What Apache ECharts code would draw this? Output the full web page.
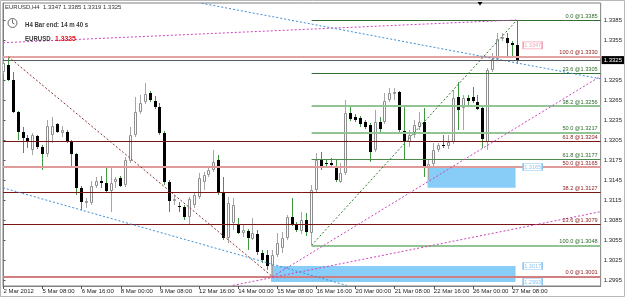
<!DOCTYPE html>
<html><head><meta charset="utf-8">
<script src="https://cdn.jsdelivr.net/npm/echarts@6/dist/echarts.min.js"></script>
<style>html,body{margin:0;padding:0;background:#fff}#c{width:625px;height:297px}</style>
</head><body><div id="c"></div>
<script>
// ---- data (EURUSD H4, 2 Mar 2012 00:00 .. 27 Mar 2012 12:00, bar index) ----
const openP = [1.3307,1.3318,1.3295,1.3247,1.3217,1.3208,1.3190,1.3211,1.3195,1.3184,
 1.3213,1.3229,1.3216,1.3217,1.3202,1.3184,1.3134,1.3113,1.3111,1.3137,
 1.3144,1.3141,1.3129,1.3143,1.3149,1.3138,1.3174,1.3213,1.3247,1.3262,
 1.3276,1.3264,1.3255,1.3216,1.3143,1.3114,1.3107,1.3105,1.3090,1.3108,
 1.3120,1.3143,1.3153,1.3161,1.3176,1.3126,1.3059,1.3081,1.3080,1.3066,
 1.3069,1.3057,1.3065,1.3036,1.3033,1.3017,1.3033,1.3044,1.3059,1.3090,
 1.3078,1.3069,1.3086,1.3066,1.3131,1.3176,1.3171,1.3171,1.3167,1.3143,
 1.3156,1.3246,1.3240,1.3238,1.3232,1.3228,1.3190,1.3232,1.3232,1.3265,
 1.3276,1.3277,1.3219,1.3202,1.3213,1.3225,1.3232,1.3164,1.3170,1.3190,
 1.3198,1.3196,1.3202,1.3270,1.3253,1.3268,1.3270,1.3262,1.3253,1.3202,
 1.3310,1.3327,1.3357,1.3358,1.3351,1.3347];
const highP = [1.3325,1.3330,1.3307,1.3249,1.3225,1.3213,1.3216,1.3213,1.3198,1.3235,
 1.3240,1.3231,1.3226,1.3220,1.3205,1.3186,1.3137,1.3119,1.3144,1.3150,
 1.3152,1.3164,1.3164,1.3150,1.3152,1.3180,1.3225,1.3270,1.3273,1.3291,
 1.3279,1.3271,1.3261,1.3219,1.3146,1.3123,1.3113,1.3108,1.3120,1.3126,
 1.3156,1.3158,1.3167,1.3190,1.3183,1.3150,1.3120,1.3119,1.3089,1.3078,
 1.3072,1.3089,1.3071,1.3041,1.3041,1.3041,1.3066,1.3068,1.3093,1.3119,
 1.3083,1.3098,1.3096,1.3138,1.3186,1.3187,1.3177,1.3179,1.3176,1.3171,
 1.3265,1.3258,1.3244,1.3241,1.3235,1.3231,1.3250,1.3240,1.3276,1.3283,
 1.3283,1.3279,1.3255,1.3220,1.3235,1.3247,1.3253,1.3176,1.3201,1.3201,
 1.3213,1.3213,1.3280,1.3292,1.3273,1.3273,1.3285,1.3273,1.3258,1.3313,
 1.3336,1.3366,1.3366,1.3366,1.3354,1.3385];
const lowP = [1.3304,1.3294,1.3246,1.3205,1.3186,1.3193,1.3183,1.3192,1.3161,1.3180,
 1.3201,1.3216,1.3210,1.3201,1.3165,1.3123,1.3101,1.3104,1.3108,1.3134,
 1.3134,1.3126,1.3098,1.3134,1.3135,1.3135,1.3171,1.3210,1.3244,1.3259,
 1.3262,1.3252,1.3213,1.3138,1.3098,1.3108,1.3098,1.3086,1.3078,1.3104,
 1.3117,1.3131,1.3150,1.3158,1.3123,1.3056,1.3051,1.3071,1.3065,1.3060,
 1.3041,1.3056,1.3033,1.3022,1.3011,1.3001,1.3030,1.3036,1.3056,1.3077,
 1.3068,1.3065,1.3062,1.3048,1.3128,1.3161,1.3165,1.3164,1.3143,1.3141,
 1.3153,1.3234,1.3232,1.3225,1.3222,1.3173,1.3187,1.3217,1.3229,1.3262,
 1.3265,1.3217,1.3176,1.3195,1.3208,1.3220,1.3150,1.3146,1.3165,1.3187,
 1.3193,1.3192,1.3199,1.3220,1.3220,1.3255,1.3261,1.3250,1.3193,1.3190,
 1.3307,1.3325,1.3354,1.3330,1.3330,1.3319];
const closeP = [1.3321,1.3295,1.3247,1.3217,1.3208,1.3204,1.3213,1.3195,1.3184,1.3226,
 1.3226,1.3217,1.3220,1.3202,1.3184,1.3134,1.3113,1.3114,1.3137,1.3144,
 1.3141,1.3129,1.3141,1.3147,1.3137,1.3176,1.3213,1.3247,1.3261,1.3274,
 1.3265,1.3255,1.3216,1.3143,1.3114,1.3117,1.3105,1.3090,1.3117,1.3123,
 1.3149,1.3153,1.3161,1.3173,1.3126,1.3059,1.3111,1.3108,1.3066,1.3071,
 1.3059,1.3066,1.3038,1.3026,1.3017,1.3033,1.3051,1.3059,1.3090,1.3080,
 1.3071,1.3086,1.3068,1.3131,1.3176,1.3164,1.3170,1.3168,1.3146,1.3156,
 1.3246,1.3237,1.3235,1.3229,1.3225,1.3187,1.3232,1.3222,1.3264,1.3276,
 1.3277,1.3220,1.3202,1.3213,1.3228,1.3232,1.3165,1.3170,1.3190,1.3198,
 1.3196,1.3202,1.3268,1.3250,1.3268,1.3264,1.3264,1.3252,1.3207,1.3310,
 1.3327,1.3357,1.3360,1.3351,1.3348,1.3325];

const xTickIdx = [0,8,16,24,32,40,48,56,64,72,80,88,96,104];
const xTickLabels = ['2 Mar 2012','5 Mar 08:00','6 Mar 16:00','8 Mar 00:00','9 Mar 08:00','12 Mar 16:00',
  '14 Mar 00:00','15 Mar 08:00','16 Mar 16:00','20 Mar 00:00','21 Mar 08:00','22 Mar 16:00','26 Mar 00:00','27 Mar 08:00'];
const yTicks = [1.2995,1.3025,1.3055,1.3085,1.3115,1.3145,1.3175,1.3205,1.3235,1.3265,1.3295,1.3325,1.3355,1.3385];

// Fibonacci sets
const redLevels = [0, 23.6, 38.2, 50, 61.8, 100];
const redPrices = [1.3001, 1.3079, 1.3127, 1.3165, 1.3204, 1.3330];
const greenLevels = [0, 23.6, 38.2, 50, 61.8, 100];
const greenPrices = [1.3385, 1.3305, 1.3256, 1.3217, 1.3177, 1.3048];
const greenStartBar = 63;

// trend lines [bar, price]
const redFibTrend = [[1, 1.3330], [55, 1.3001]];
const greenFibTrend = [[63, 1.3048], [105, 1.3385]];
const pinkTop = [[-0.1, 1.3351], [105, 1.3385]];
const pinkSteep = [[55, 1.3001], [122.1, 1.3301]];
const pinkShallow = [[46.9, 1.2988], [121.9, 1.3098]];
const blueUpper = [[40.5, 1.3410], [122.1, 1.3297]];
const blueLower = [[-0.1, 1.3134], [70.2, 1.2988]];

// rectangles [barFrom, priceTop, barTo, priceBottom]
const rects = [[86.7, 1.3165, 104.7, 1.3134], [54.7, 1.3017, 104.7, 1.2993]];
// price labels
const priceLabelVals = [1.3347, 1.3165, 1.3017, 1.2993];
const bidPrice = 1.3325;
const headerText = 'EURUSD,H4  1.3347 1.3385 1.3319 1.3325';

// ---- styles ----
const redStyle = [
  {c:'#cf7f7f', w:2}, {c:'#7a1515', w:1}, {c:'#7a1515', w:1},
  {c:'#e09a9a', w:2}, {c:'#7a1515', w:1}, {c:'#e3a3a3', w:2}];
const greenStyle = [
  {c:'#336f33', w:1}, {c:'#336f33', w:1}, {c:'#93c493', w:2},
  {c:'#93c493', w:2}, {c:'#4d8c4d', w:1}, {c:'#93c493', w:2}];
const redLabelColor = '#8a1c1c', greenLabelColor = '#2c6a2c';
const priceLabelColors = ['#f0a6b6', '#8cc4ee', '#8cc4ee', '#8cc4ee'];
const XMIN = -0.1, XMAX = 122.1;
const FONT = 'Liberation Sans';

const candles = openP.map((o, i) => [i, o, closeP[i], lowP[i], highP[i]]);

function fibLines(levels, prices, styles, x0, labelColor) {
  return levels.map((lv, k) => [
    {coord: [x0, prices[k]],
     lineStyle: {color: styles[k].c, width: styles[k].w, type: 'solid'},
     label: {show: true, position: 'insideEndTop', distance: [3, 1],
       formatter: lv.toFixed(1) + ' @' + prices[k].toFixed(4),
       color: labelColor, fontSize: 5.6, fontFamily: FONT}},
    {coord: [XMAX, prices[k]]}
  ]);
}
function trend(pts, color) {
  return [
    {coord: pts[0], lineStyle: {color: color, width: 1, type: [2, 2]}, label: {show: false}},
    {coord: pts[1]}
  ];
}

const option = {
  animation: false,
  backgroundColor: '#ffffff',
  textStyle: {fontFamily: FONT},
  grid: {left: 3, right: 24, top: 3, bottom: 11, show: true, borderColor: '#808080', borderWidth: 1, backgroundColor: '#fff'},
  xAxis: {
    type: 'value', min: XMIN, max: XMAX,
    axisLine: {show: true, lineStyle: {color: '#808080'}},
    splitLine: {show: false},
    axisTick: {show: true, length: 3, customValues: xTickIdx, lineStyle: {color: '#555'}},
    axisLabel: {customValues: xTickIdx, align: 'left', margin: 2, fontSize: 6, color: '#222',
      formatter: v => xTickLabels[xTickIdx.indexOf(Math.round(v))] || ''}
  },
  yAxis: {
    type: 'value', position: 'right', min: 1.29871, max: 1.34104, scale: true,
    axisLine: {show: true, lineStyle: {color: '#808080'}},
    splitLine: {show: false},
    axisTick: {show: true, length: 2, customValues: yTicks, lineStyle: {color: '#555'}},
    axisLabel: {customValues: yTicks, margin: 3, fontSize: 6, color: '#222', formatter: v => v.toFixed(4)}
  },
  graphic: [
    {type: 'rect', shape: {x: 0.5, y: 0.5, width: 624, height: 296}, style: {fill: 'none', stroke: '#b8b8b8'}, z: 100},
    {type: 'text', x: 5, y: 7, style: {text: headerText, fontSize: 6, fill: '#333', fontFamily: FONT, verticalAlign: 'middle'}, z: 100},
    {type: 'circle', shape: {cx: 12.5, cy: 23, r: 4.5}, style: {fill: '#fff', stroke: '#666', lineWidth: 1}, z: 100},
    {type: 'polyline', shape: {points: [[12.5, 19.5], [12.5, 23], [14.5, 24]]}, style: {stroke: '#666', lineWidth: 1, fill: 'none'}, z: 100},
    {type: 'text', x: 25, y: 25, scaleX: 0.76, style: {text: 'H4 Bar end: 14 m 40 s', fontSize: 8, fontWeight: 'bold', fill: '#3a3a3a', fontFamily: FONT, verticalAlign: 'middle'}, z: 100},
    {type: 'text', x: 25, y: 39, scaleX: 0.76, style: {text: 'EURUSD', fontSize: 8, fontWeight: 'bold', fill: '#3a3a3a', fontFamily: FONT, verticalAlign: 'middle'}, z: 100},
    {type: 'text', x: 55, y: 39, scaleX: 0.85, style: {text: '1.3325', fontSize: 8, fontWeight: 'bold', fill: '#e01010', fontFamily: FONT, verticalAlign: 'middle'}, z: 100},
    {type: 'polygon', shape: {points: [[477.5, 2], [482.5, 2], [480, 5.5]]}, style: {fill: '#000'}, z: 100}
  ],
  series: [
    {
      type: 'line', data: [], z: 1, silent: true,
      markArea: {silent: true, itemStyle: {color: '#87cdf8', opacity: 1},
        data: rects.map(r => [{coord: [r[0], r[1]]}, {coord: [r[2], r[3]]}])}
    },
    {
      type: 'custom', z: 2, clip: true, encode: {x: 0, y: 1},
      data: candles,
      renderItem: function (params, api) {
        const i = api.value(0), o = api.value(1), c = api.value(2), l = api.value(3), h = api.value(4);
        const pO = api.coord([i, o]), pC = api.coord([i, c]);
        const pL = api.coord([i, l]), pH = api.coord([i, h]);
        const col = Math.round(pO[0] - 0.5);
        const bull = c >= o;
        const yT = Math.round(Math.min(pO[1], pC[1]));
        const yB = Math.round(Math.max(pO[1], pC[1]));
        const ch = [{type: 'line', shape: {x1: col + 0.5, y1: Math.round(pH[1]), x2: col + 0.5, y2: Math.round(pL[1])},
          style: {stroke: bull ? '#a6a6a6' : '#3f9a3f', lineWidth: 1}}];
        if (bull) {
          ch.push({type: 'rect', shape: {x: col - 0.5, y: yT + 0.5, width: 2, height: Math.max(yB - yT - 1, 1)},
            style: {fill: '#fff', stroke: '#8e8e8e', lineWidth: 1}});
        } else {
          ch.push({type: 'rect', shape: {x: col - 1, y: yT, width: 3, height: Math.max(yB - yT, 1)},
            style: {fill: '#000'}});
        }
        return {type: 'group', children: ch};
      }
    },
    {
      type: 'line', data: [], z: 3, silent: true,
      markLine: {silent: true, symbol: ['none', 'none'], animation: false,
        data: [].concat(
          fibLines(redLevels, redPrices, redStyle, XMIN, redLabelColor),
          fibLines(greenLevels, greenPrices, greenStyle, greenStartBar, greenLabelColor),
          [trend(redFibTrend, '#8a3030'), trend(greenFibTrend, '#2f7a2f'),
           trend(pinkTop, '#cc44bb'), trend(pinkSteep, '#cc44bb'), trend(pinkShallow, '#cc44bb'),
           trend(blueUpper, '#3f8fd8'), trend(blueLower, '#3f8fd8')],
          [[{coord: [XMIN, bidPrice], lineStyle: {color: '#5a5a5a', width: 1, type: 'solid'},
             label: {show: true, position: 'end', distance: 1, formatter: bidPrice.toFixed(4), color: '#fff',
               backgroundColor: '#000', padding: [1, 3, 1, 2], fontSize: 6, fontFamily: FONT}},
            {coord: [XMAX, bidPrice]}]]
        )
      },
      markPoint: {silent: true, animation: false,
        data: priceLabelVals.map((v, k) => ({
          coord: [108.2, v], symbol: 'rect', symbolSize: [19, 7],
          itemStyle: {color: '#fff', borderColor: priceLabelColors[k], borderWidth: 1},
          label: {show: true, position: 'inside', formatter: v.toFixed(4), color: priceLabelColors[k], fontSize: 5.5, fontFamily: FONT}
        }))}
    }
  ]
};
const chart = echarts.init(document.getElementById('c'), null, {renderer: 'canvas', width: 625, height: 297});
chart.setOption(option);
</script>
</body></html>
